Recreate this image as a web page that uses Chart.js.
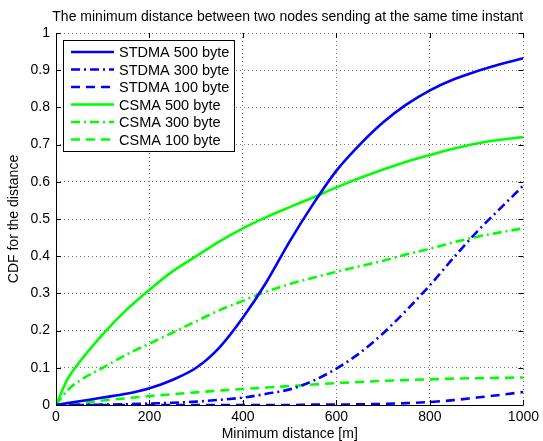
<!DOCTYPE html>
<html>
<head>
<meta charset="utf-8">
<script src="https://cdn.jsdelivr.net/npm/chart.js@4.4.1/dist/chart.umd.min.js"></script>
<style>
  html, body { margin: 0; padding: 0; background: #fff; }
  #wrap { width: 543px; height: 441px; }
</style>
</head>
<body>
<div id="wrap"><canvas id="grafico" width="543" height="441"></canvas></div>
<script>
// Datos (distancia en metros, CDF)
const distancias = [0, 25, 50, 100, 150, 200, 250, 300, 350, 400, 450, 500, 550, 600, 650, 700, 750, 800, 850, 900, 950, 1000];
const stdma500 = [0, 0.005, 0.01, 0.02, 0.03, 0.045, 0.068, 0.10, 0.155, 0.235, 0.33, 0.44, 0.54, 0.63, 0.70, 0.76, 0.808, 0.846, 0.875, 0.897, 0.916, 0.932];
const stdma300 = [0, 0, 0, 0.001, 0.002, 0.004, 0.006, 0.009, 0.014, 0.02, 0.03, 0.042, 0.065, 0.098, 0.14, 0.193, 0.255, 0.322, 0.395, 0.465, 0.528, 0.59];
const stdma100 = [0, 0, 0, 0, 0, 0, 0, 0, 0, 0, 0, 0, 0.001, 0.001, 0.002, 0.003, 0.005, 0.008, 0.013, 0.02, 0.027, 0.035];
const csma500 = [0, 0.07, 0.115, 0.19, 0.255, 0.31, 0.36, 0.40, 0.44, 0.475, 0.505, 0.532, 0.558, 0.585, 0.61, 0.633, 0.654, 0.672, 0.689, 0.703, 0.713, 0.72];
const csma300 = [0, 0.04, 0.065, 0.10, 0.135, 0.165, 0.195, 0.225, 0.255, 0.28, 0.305, 0.325, 0.342, 0.358, 0.373, 0.388, 0.405, 0.42, 0.437, 0.452, 0.464, 0.475];
const csma100 = [0, 0.001, 0.004, 0.012, 0.018, 0.024, 0.029, 0.034, 0.039, 0.043, 0.047, 0.051, 0.055, 0.059, 0.062, 0.065, 0.067, 0.069, 0.071, 0.072, 0.073, 0.074];

const ticksX = [0, 200, 400, 600, 800, 1000];
const ticksY = [0, 0.1, 0.2, 0.3, 0.4, 0.5, 0.6, 0.7, 0.8, 0.9, 1];

const titulo = 'The minimum distance between two nodes sending at the same time instant';
const fuente = 'Liberation Sans, Arial, Helvetica, sans-serif';

const AZUL = '#0000ff';
const VERDE = '#00ff00';
const guionPunto = [9, 4, 2, 4];
const guion = [9, 6];

function serie(nombre, valores, color, dash) {
    return {
        label: nombre,
        data: distancias.map((d, i) => ({ x: d, y: valores[i] })),
        borderColor: color,
        backgroundColor: color,
        borderWidth: 2.6,
        borderDash: dash,
        pointRadius: 0,
        cubicInterpolationMode: 'monotone',
        fill: false
    };
}

const datos = {
    datasets: [
        serie('STDMA 500 byte', stdma500, AZUL, []),
        serie('STDMA 300 byte', stdma300, AZUL, guionPunto),
        serie('STDMA 100 byte', stdma100, AZUL, guion),
        serie('CSMA 500 byte', csma500, VERDE, []),
        serie('CSMA 300 byte', csma300, VERDE, guionPunto),
        serie('CSMA 100 byte', csma100, VERDE, guion)
    ]
};

// Dibuja título, ejes, marcas interiores y la leyenda dentro del gráfico
const estiloMatlab = {
    id: 'estiloMatlab',
    afterDatasetsDraw(chart) {
        const ctx = chart.ctx;
        const a = chart.chartArea;
        const sx = chart.scales.x;
        const sy = chart.scales.y;
        ctx.save();

        // ejes izquierdo e inferior
        ctx.strokeStyle = '#000';
        ctx.lineWidth = 1;
        ctx.setLineDash([]);
        ctx.beginPath();
        ctx.moveTo(a.left + 0.5, a.top);
        ctx.lineTo(a.left + 0.5, a.bottom + 0.5);
        ctx.lineTo(a.right, a.bottom + 0.5);
        ctx.stroke();

        // marcas hacia adentro
        ctx.beginPath();
        ticksX.forEach(v => {
            const px = Math.round(sx.getPixelForValue(v)) + 0.5;
            ctx.moveTo(px, a.bottom);
            ctx.lineTo(px, a.bottom - 5);
            ctx.moveTo(px, a.top);
            ctx.lineTo(px, a.top + 5);
        });
        ticksY.forEach(v => {
            const py = Math.round(sy.getPixelForValue(v)) + 0.5;
            ctx.moveTo(a.left, py);
            ctx.lineTo(a.left + 5, py);
            ctx.moveTo(a.right, py);
            ctx.lineTo(a.right - 5, py);
        });
        ctx.stroke();

        // título
        ctx.fillStyle = '#000';
        ctx.font = '14px ' + fuente;
        ctx.textAlign = 'center';
        ctx.textBaseline = 'alphabetic';
        ctx.fillText(titulo, (a.left + a.right) / 2 - 2, 21);

        // leyenda
        const lx = 63, ly = 40, lw = 171, lh = 111;
        ctx.fillStyle = '#fff';
        ctx.fillRect(lx, ly, lw, lh);
        ctx.strokeStyle = '#000';
        ctx.lineWidth = 1;
        ctx.strokeRect(lx + 0.5, ly + 0.5, lw, lh);
        chart.data.datasets.forEach((ds, i) => {
            const y = 52 + i * 17.5;
            ctx.strokeStyle = ds.borderColor;
            ctx.lineWidth = ds.borderWidth;
            ctx.setLineDash(ds.borderDash);
            ctx.beginPath();
            ctx.moveTo(71, y);
            ctx.lineTo(114, y);
            ctx.stroke();
            ctx.setLineDash([]);
            ctx.fillStyle = '#000';
            ctx.textAlign = 'left';
            ctx.textBaseline = 'middle';
            ctx.font = '14.5px ' + fuente;
            ctx.fillText(ds.label, 119, y + 1);
        });
        ctx.restore();
    }
};

const ctx = document.getElementById('grafico').getContext('2d');

new Chart(ctx, {
    type: 'line',
    data: datos,
    plugins: [estiloMatlab],
    options: {
        responsive: false,
        animation: false,
        layout: { padding: { top: 33, right: 18, left: 0, bottom: 0 } },
        plugins: {
            legend: { display: false },
            tooltip: { enabled: false }
        },
        scales: {
            x: {
                type: 'linear',
                min: 0,
                max: 1000,
                afterFit: s => { s.height = 36; },
                afterBuildTicks: s => { s.ticks = ticksX.map(v => ({ value: v })); },
                grid: { color: 'rgba(0,0,0,0.55)', borderDash: [1, 3], drawTicks: false, lineWidth: 1 },
                border: { display: false, dash: [1, 3] },
                ticks: { color: '#000', font: { family: fuente, size: 14 }, padding: 4, maxRotation: 0, callback: v => String(v) },
                title: { display: true, text: 'Minimum distance [m]', color: '#000', font: { family: fuente, size: 14, lineHeight: 1 }, padding: { top: 0, bottom: 0 } }
            },
            y: {
                type: 'linear',
                min: 0,
                max: 1,
                afterFit: s => { s.width = 56; },
                afterBuildTicks: s => { s.ticks = ticksY.map(v => ({ value: v })); },
                grid: { color: 'rgba(0,0,0,0.55)', borderDash: [1, 3], drawTicks: false, lineWidth: 1 },
                border: { display: false, dash: [1, 3] },
                ticks: { color: '#000', font: { family: fuente, size: 14 }, padding: 6, callback: v => String(Math.round(v * 10) / 10) },
                title: { display: true, text: 'CDF for the distance', color: '#000', font: { family: fuente, size: 14 }, padding: { top: 6, bottom: 0 } }
            }
        }
    }
});
</script>
</body>
</html>
